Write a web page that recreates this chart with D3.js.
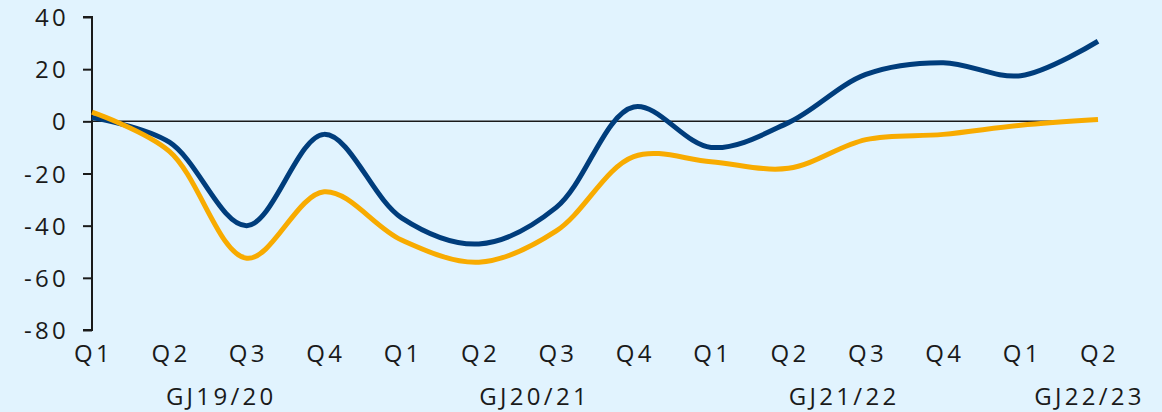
<!DOCTYPE html>
<html>
<head>
<meta charset="utf-8">
<script src="https://cdn.jsdelivr.net/npm/d3@7"></script>
<style>
  html, body { margin: 0; padding: 0; background: #e1f3fe; }
  svg text { font-family: "Open Sans", "Noto Sans", sans-serif; fill: #1a1a1a; letter-spacing: 3.3px; }
</style>
</head>
<body>
<div id="chart"></div>
<script>
// Data
const quarters = ['Q1', 'Q2', 'Q3', 'Q4', 'Q1', 'Q2', 'Q3', 'Q4', 'Q1', 'Q2', 'Q3', 'Q4', 'Q1', 'Q2']
const blueSeries = [1.5, -8, -40, -5, -37, -47, -33, 5.5, -10, -0.5, 18, 22.5, 17.5, 30.7]
const yellowSeries = [3.5, -11.5, -52.5, -27, -45.5, -54, -42, -13.5, -15.5, -18, -7, -5, -1.5, 0.7]
const yTicks = [40, 20, 0, -20, -40, -60, -80]
const yearLabels = ['GJ19/20', 'GJ20/21', 'GJ21/22', 'GJ22/23']
const yearPositions = [1.67, 5.72, 9.72, 12.89]

const width = 1162
const height = 412
const plotLeft = 92
const plotRight = 1098
const plotTop = 17
const plotBottom = 330
const fontSize = '24px'

const svg = d3.select('#chart')
    .append('svg').attr('width', width).attr('height', height)

svg.append('rect')
    .attr('width', width).attr('height', height)
    .attr('fill', '#e1f3fe')

// Scales
const x = d3.scaleLinear()
    .domain([0, quarters.length - 1])
    .range([plotLeft, plotRight])
const y = d3.scaleLinear()
    .domain([-80, 40])
    .range([plotBottom, plotTop])

// y axis
const yAxis = d3.axisLeft(y)
    .tickValues(yTicks)
    .tickSize(9)
    .tickPadding(14)
    .tickFormat(d => d < 0 ? '-' + Math.abs(d) : d)

const yG = svg.append('g')
    .attr('transform', `translate(${plotLeft},0)`)
    .call(yAxis)
yG.select('.domain').attr('stroke', '#1a1a1a').attr('stroke-width', 2)
    .attr('d', `M-9,${y(40)}H0V${y(-80)}H-9`)
yG.selectAll('.tick line').attr('stroke', '#1a1a1a').attr('stroke-width', 2)
yG.selectAll('.tick text')
    .style('font-size', fontSize)
    .attr('fill', '#1a1a1a')
    .attr('dy', '0.357em')

// quarter labels
svg.append('g')
    .selectAll('text')
    .data(quarters)
    .join('text')
    .attr('x', (d, i) => x(i) + 1.6)
    .attr('y', 362)
    .attr('text-anchor', 'middle')
    .style('font-size', fontSize)
    .text(d => d)

// fiscal year labels
svg.append('g')
    .selectAll('text')
    .data(yearLabels)
    .join('text')
    .attr('x', (d, i) => x(yearPositions[i]))
    .attr('y', 405)
    .attr('text-anchor', 'middle')
    .style('font-size', fontSize)
    .text(d => d)

// zero line
svg.append('line')
    .attr('x1', x(0)).attr('x2', x(quarters.length - 1))
    .attr('y1', y(0)).attr('y2', y(0))
    .attr('stroke', '#1a1a1a')
    .attr('stroke-width', 1.5)

// Lines
const line = d3.line()
    .x((d, i) => x(i))
    .y(d => y(d))
    .curve(d3.curveCatmullRom.alpha(0.5))

svg.append('path')
    .datum(blueSeries)
    .attr('d', line)
    .attr('fill', 'none')
    .attr('stroke', '#003d7c')
    .attr('stroke-width', 5)

svg.append('path')
    .datum(yellowSeries)
    .attr('d', line)
    .attr('fill', 'none')
    .attr('stroke', '#f8ab00')
    .attr('stroke-width', 5)
</script>
</body>
</html>
